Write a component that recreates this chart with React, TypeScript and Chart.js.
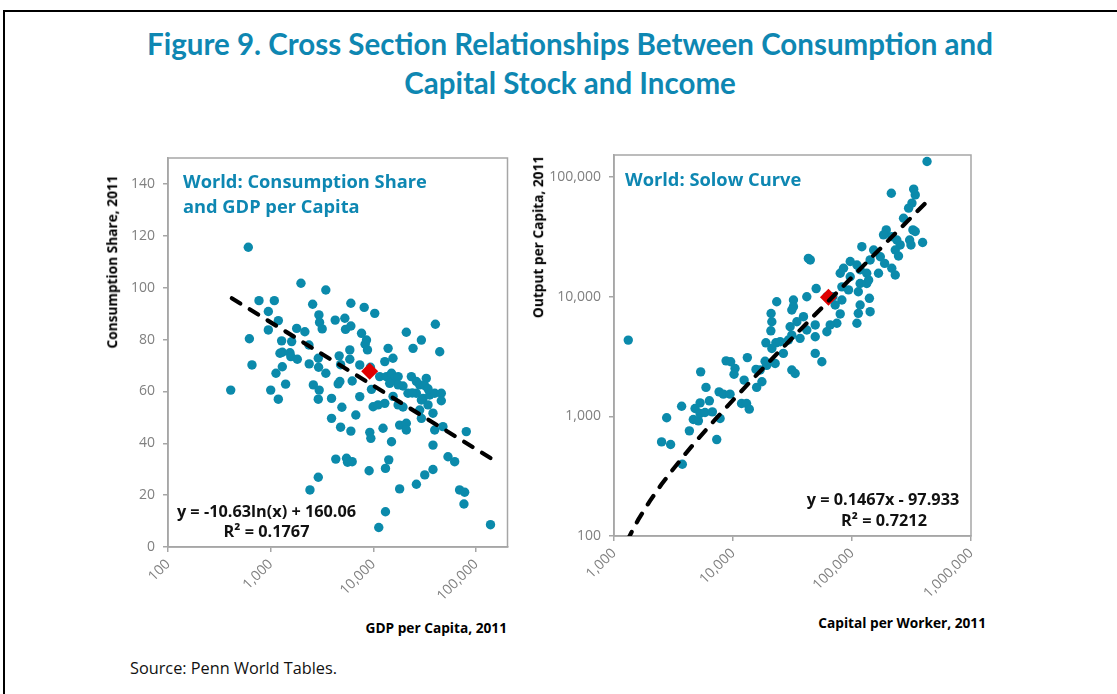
import React, { useEffect, useRef } from "react";
import { Chart, registerables } from "chart.js";
Chart.register(...registerables);

// ---------- data ----------
const LEFT_X_TICKS = [100, 1000, 10000, 100000];
const LEFT_Y_TICKS = [0, 20, 40, 60, 80, 100, 120, 140];
const RIGHT_X_TICKS = [1000, 10000, 100000, 1000000];
const RIGHT_Y_TICKS = [100, 1000, 10000, 100000];

// [GDP per capita, consumption share]
const GDP_CONSUMPTION: [number, number][] = [
  [605, 115.6], [408, 60.5], [1970, 101.7], [3440, 99.1], [769, 95], [1084, 95], [948, 90.8], [948, 83.7],
  [1186, 87.3], [620, 80.3], [657, 70.2], [2560, 93.6], [2946, 89.5], [2990, 86.6], [3170, 84.1], [4245, 87.5],
  [5270, 88.2], [6030, 94], [8130, 92.4], [10300, 90.1], [5350, 83.9], [6030, 85.2], [7660, 82.4], [8560, 79.8],
  [8300, 78.2], [8750, 76], [1790, 84.3], [2150, 83], [1277, 79.5], [1600, 79.2], [1297, 75.1], [1230, 74.7],
  [1540, 74.9], [1570, 73.4], [1815, 72.4], [1297, 69.5], [1125, 67], [1397, 62.8], [1000, 60.5], [1186, 57],
  [2355, 77.9], [2370, 70.6], [2904, 72.8], [2925, 69.3], [3440, 67], [2600, 62.5], [2965, 60.5], [2904, 57],
  [3910, 57.3], [4540, 62.9], [4640, 73.7], [5890, 76], [5890, 72.4], [7360, 70.2], [4710, 63.8], [6210, 64],
  [7360, 58], [4930, 53.9], [3910, 49.6], [4790, 46.2], [6030, 44.7], [6740, 50.9], [9220, 44.2], [9440, 41.9],
  [4300, 33.9], [5470, 34.2], [5600, 32.7], [6210, 32.9], [9080, 29.4], [2904, 26.9], [2410, 22], [11270, 7.5],
  [9570, 60.8], [9930, 54.1], [4790, 70.3], [9350, 69.3],
  [12900, 71.5], [15500, 72.8], [13900, 76.6], [20900, 82.8], [29300, 79.8], [24300, 76.6], [40100, 85.9], [44200, 75.3],
  [11500, 65.7], [13400, 65.7], [15000, 67], [16100, 65], [17400, 65.7], [19400, 62.1], [23400, 65.7], [26200, 63.8],
  [28200, 62.5], [32700, 65], [21700, 59.3], [26200, 59.3], [30400, 57.3], [35300, 58.6], [39500, 59.3], [45800, 59.3],
  [45800, 56.4], [34000, 54.8], [29300, 56.7], [17400, 54.8], [12900, 55.4], [11100, 54.8], [17400, 62.5], [14400, 63.1],
  [38000, 51.6], [29300, 49.6], [39500, 45.1], [47500, 46.4], [18000, 47], [20900, 47.7], [20900, 45.1], [12400, 45.8],
  [15000, 40.6], [38000, 39.3], [80200, 44.5], [53200, 34.8], [61800, 32.9], [14100, 33.6], [13100, 30.3], [38000, 29.9],
  [31600, 27.8], [26200, 24.2], [18000, 22.4], [69000, 22], [77300, 21.1], [76100, 16.6], [13100, 13.6], [138000, 8.6],
  [31400, 62.3], [34000, 61], [23900, 59.4], [28200, 52.8], [15530, 58.1], [19400, 54],
];
const WORLD_LEFT: [number, number][] = [[9200, 67.8]];
// y = -10.63 ln(x) + 160.06 (straight on a log x axis)
const LEFT_TREND: [number, number][] = [[418, 95.9], [138000, 34.3]];

// [capital per worker, output per capita]
const CAPITAL_OUTPUT: [number, number][] = [
  [2510, 612], [2990, 582], [2770, 973], [3750, 398], [3700, 1216], [4300, 757], [4640, 942], [5120, 918],
  [4800, 1164], [5290, 1297], [5290, 1056], [5820, 1077], [5930, 1746], [6330, 1349], [6710, 1091], [7300, 640],
  [7790, 960], [7640, 1603], [8300, 1534], [9440, 1534], [11800, 1282], [13000, 1282], [13700, 1149], [15800, 1746],
  [17500, 1945], [12400, 2010],
  [1318, 4340], [5350, 2355], [8750, 2910], [9560, 2860], [10400, 2510], [10200, 2250], [13200, 3100], [15600, 2470],
  [18600, 2890], [18900, 4120], [20800, 5190], [21200, 6180], [20900, 7240], [22900, 4120], [22600, 2770], [23300, 9080],
  [16900, 2440], [19200, 2670], [21200, 3690],
  [427000, 135000], [214000, 73300], [330000, 79300], [340000, 71000], [319000, 60600], [299000, 55000], [271000, 45300],
  [325000, 36200], [340000, 35100], [194000, 36200], [184000, 32900], [216000, 31800], [238000, 29800], [254000, 27100],
  [305000, 29800], [313000, 27100], [392000, 28400], [231000, 24600], [246000, 21900], [121000, 26200], [152000, 24600],
  [173000, 21600], [142000, 20300], [188000, 19000], [216000, 17300], [231000, 15200], [167000, 15700], [96600, 19700],
  [110000, 18400], [84900, 17300], [79600, 15700], [96600, 14700], [117000, 16800], [133000, 15700], [117000, 12900],
  [133000, 12900], [113000, 11000], [138000, 13800], [93500, 11400], [82200, 12100], [44600, 20300], [43000, 20900],
  [50000, 11700], [41700, 10000], [61500, 10000], [69100, 10000], [82200, 9390], [72200, 8530], [79600, 7180],
  [117000, 8530], [140000, 9700], [142000, 7500], [113000, 7260], [110000, 6000], [74600, 6000], [65600, 5810],
  [61500, 5100], [49100, 5810], [49100, 4630], [39100, 6810], [32200, 9390], [32200, 8260], [31200, 7740], [29200, 4350],
  [36600, 4490], [41700, 5270], [49100, 3360], [55800, 2860], [31200, 2440], [24900, 4210], [26500, 3360],
  [33300, 2280], [34400, 6180], [30200, 5610], [31200, 4780],
];
const WORLD_RIGHT: [number, number][] = [[63400, 9900]];
// y = 0.1467x - 97.933
const RIGHT_TREND: [number, number][] = [
  [1290, 91], [1400, 107], [1600, 137], [2000, 196], [2500, 269], [3000, 342], [4000, 489], [5000, 636],
  [7000, 929], [10000, 1369], [15000, 2103], [20000, 2836], [30000, 4303], [50000, 7237], [100000, 14572],
  [200000, 29242], [417000, 61075],
];

// ---------- styles ----------
const DOT = "#0b8aab";
const TITLE_TEAL = "#0e87b2";
const AXIS_GRAY = "#a6a6a6";
const TICK_GRAY = "#808080";

const boxPlugin = {
  id: "plotBox",
  beforeDatasetsDraw(chart: any) {
    const { ctx, chartArea: a } = chart;
    ctx.save();
    ctx.strokeStyle = AXIS_GRAY;
    ctx.lineWidth = 1.5;
    ctx.strokeRect(a.left, a.top, a.right - a.left, a.bottom - a.top);
    ctx.restore();
  },
};

type PanelProps = {
  left: number; top: number; width: number; height: number;
  yAxisWidth: number; padRight: number;
  points: [number, number][]; world: [number, number][]; trend: [number, number][];
  xMin: number; xMax: number; yMin: number; yMax: number;
  xTicks: number[]; yTicks: number[]; yLog: boolean; redOnTop: boolean;
};

function Panel(p: PanelProps) {
  const ref = useRef<HTMLCanvasElement>(null);
  useEffect(() => {
    const fmt = (v: any) => Number(v).toLocaleString("en-US");
    const tickFont = { family: "'Open Sans', sans-serif", size: 14 };
    const grid = { display: true, drawOnChartArea: false, drawTicks: true, tickLength: 5, color: AXIS_GRAY, lineWidth: 1.5 };
    const border = { display: true, color: AXIS_GRAY, width: 1.5 };
    const toXY = (arr: [number, number][]) => arr.map(([x, y]) => ({ x, y }));
    const chart = new Chart(ref.current as HTMLCanvasElement, {
      type: "scatter",
      data: {
        datasets: [
          {
            data: toXY(p.world), pointStyle: "rectRot", pointRadius: 8.5, backgroundColor: "#e00000",
            borderColor: "#e00000", borderWidth: 0, order: p.redOnTop ? 0 : 2, clip: false,
          } as any,
          {
            data: toXY(p.trend), showLine: true, borderColor: "#000", borderWidth: 4.2, borderDash: [10, 11],
            borderCapStyle: "round", pointRadius: 0, tension: 0, fill: false, order: 1,
          } as any,
          {
            data: toXY(p.points), pointRadius: 4.7, backgroundColor: DOT, borderWidth: 0, order: 3, clip: false,
          } as any,
        ],
      },
      options: {
        animation: false,
        responsive: false,
        maintainAspectRatio: false,
        events: [],
        layout: { padding: { top: 18, right: p.padRight, left: 0, bottom: 0 } },
        plugins: { legend: { display: false }, tooltip: { enabled: false } },
        scales: {
          x: {
            type: "logarithmic", min: p.xMin, max: p.xMax,
            afterBuildTicks: (ax: any) => { ax.ticks = p.xTicks.map((v) => ({ value: v })); },
            afterFit: (s: any) => { s.height = 70; },
            ticks: { minRotation: 45, maxRotation: 45, autoSkip: false, padding: 4, color: TICK_GRAY, font: tickFont, callback: fmt },
            grid, border,
          },
          y: {
            type: p.yLog ? "logarithmic" : "linear", min: p.yMin, max: p.yMax,
            afterBuildTicks: (ax: any) => { ax.ticks = p.yTicks.map((v) => ({ value: v })); },
            afterFit: (s: any) => { s.width = p.yAxisWidth; },
            ticks: { autoSkip: false, padding: 8, color: TICK_GRAY, font: tickFont, callback: fmt },
            grid, border,
          },
        } as any,
      },
      plugins: [boxPlugin],
    });
    return () => chart.destroy();
  }, []);
  return (
    <canvas
      ref={ref}
      width={p.width}
      height={p.height}
      style={{ position: "absolute", left: p.left, top: p.top, width: p.width, height: p.height }}
    />
  );
}

function Label(props: { x: number; y: number; align?: "left" | "center" | "right"; rotate?: boolean; style?: any; children: any }) {
  const tx = props.align === "left" ? "0" : props.align === "right" ? "-100%" : "-50%";
  return (
    <div
      style={{
        position: "absolute", left: props.x, top: props.y, whiteSpace: "nowrap", lineHeight: 1,
        transform: `translate(${tx}, -50%)${props.rotate ? " rotate(-90deg)" : ""}`,
        ...props.style,
      }}
    >
      {props.children}
    </div>
  );
}

export default function App() {
  const titleStyle = { fontFamily: "Lato, sans-serif", fontWeight: 700, fontSize: 29.5, color: TITLE_TEAL };
  const innerTitle = { fontFamily: "'Open Sans', sans-serif", fontWeight: 700, fontSize: 18.3, color: TITLE_TEAL };
  const eqStyle = { fontFamily: "'Open Sans', sans-serif", fontWeight: 700, fontSize: 16.3, color: "#111" };
  const axisTitle = { fontFamily: "'Open Sans', sans-serif", fontWeight: 700, fontSize: 13.7, color: "#000" };
  return (
    <div style={{ position: "fixed", left: 0, top: 0, width: 1117, height: 694, background: "#fff", overflow: "hidden" }}>
      <div style={{ position: "absolute", left: 3, top: 10, width: 1300, height: 900, border: "2px solid #000" }} />
      <Label x={570} y={44} style={titleStyle}>Figure 9. Cross Section Relationships Between Consumption and</Label>
      <Label x={570} y={83} style={titleStyle}>Capital Stock and Income</Label>

      <Panel
        left={108} top={140} width={408} height={477} yAxisWidth={60} padRight={8}
        points={GDP_CONSUMPTION} world={WORLD_LEFT} trend={LEFT_TREND}
        xMin={100} xMax={202000} yMin={0} yMax={150}
        xTicks={LEFT_X_TICKS} yTicks={LEFT_Y_TICKS} yLog={false} redOnTop={true}
      />
      <Panel
        left={544} top={137} width={445} height={469} yAxisWidth={70} padRight={18}
        points={CAPITAL_OUTPUT} world={WORLD_RIGHT} trend={RIGHT_TREND}
        xMin={1000} xMax={1000000} yMin={100} yMax={153000}
        xTicks={RIGHT_X_TICKS} yTicks={RIGHT_Y_TICKS} yLog={true} redOnTop={false}
      />

      <Label x={183} y={181} align="left" style={innerTitle}>World: Consumption Share</Label>
      <Label x={183} y={206} align="left" style={innerTitle}>and GDP per Capita</Label>
      <Label x={625} y={179} align="left" style={innerTitle}>World: Solow Curve</Label>

      <Label x={266.5} y={511} style={eqStyle}>y = -10.63ln(x) + 160.06</Label>
      <Label x={266.5} y={531} style={eqStyle}>R² = 0.1767</Label>
      <Label x={883} y={499} style={eqStyle}>y = 0.1467x - 97.933</Label>
      <Label x={884} y={520} style={eqStyle}>R² = 0.7212</Label>

      <Label x={112} y={262} rotate style={axisTitle}>Consumption Share, 2011</Label>
      <Label x={538} y={237} rotate style={axisTitle}>Output per Capita, 2011</Label>
      <Label x={507} y={628} align="right" style={axisTitle}>GDP per Capita, 2011</Label>
      <Label x={986} y={623} align="right" style={axisTitle}>Capital per Worker, 2011</Label>

      <Label x={130} y={668} align="left" style={{ fontFamily: "'Open Sans', sans-serif", fontSize: 16.3, color: "#111" }}>
        Source: Penn World Tables.
      </Label>
    </div>
  );
}
